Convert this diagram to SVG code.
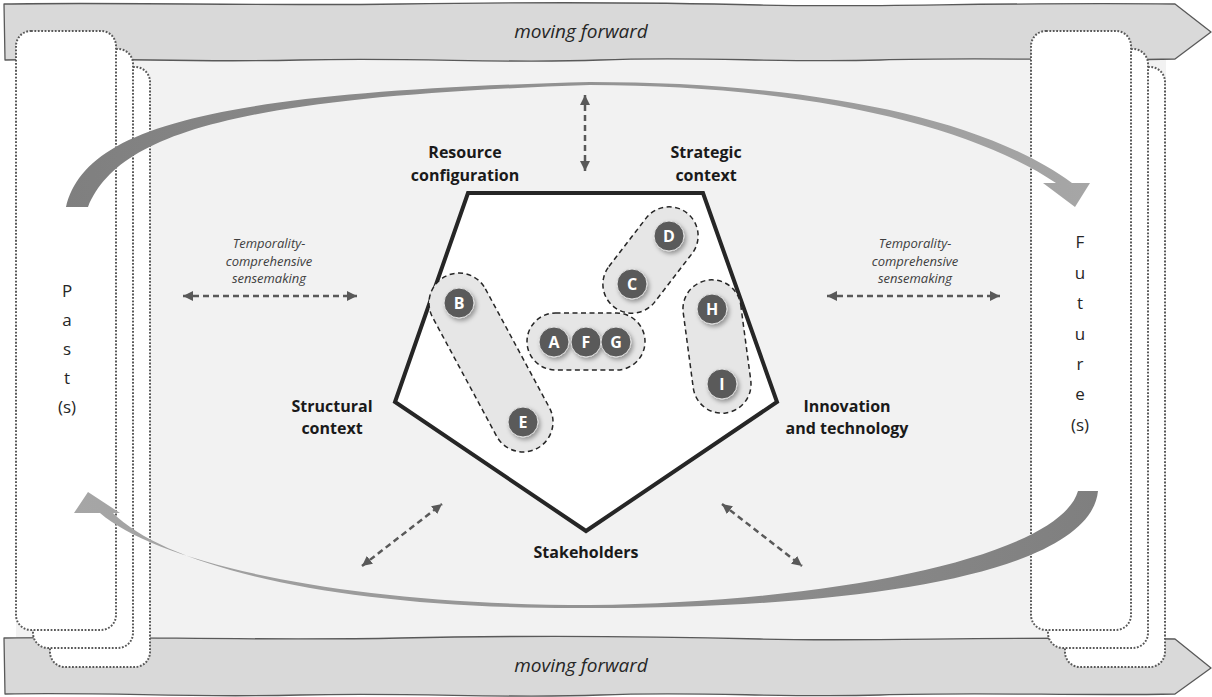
<svg xmlns="http://www.w3.org/2000/svg" width="1212" height="697" viewBox="0 0 1212 697">
  <style>
    .banner { fill: #d9d9d9; stroke: #595959; stroke-width: 1.3; stroke-linejoin: round; }
    .banner-text { font-family: "Open Sans", "Liberation Sans", sans-serif; font-style: italic; font-size: 19px; fill: #262626; text-anchor: middle; }
    .card { fill: #ffffff; stroke: #595959; stroke-width: 2; stroke-dasharray: 1.8 1.6; }
    .time-text { font-family: "Open Sans", "Liberation Sans", sans-serif; font-size: 17px; fill: #262626; text-anchor: middle; }
    .pentagon { fill: #ffffff; stroke: #262626; stroke-width: 4; stroke-linejoin: miter; }
    .label { font-family: "Open Sans", "Liberation Sans", sans-serif; font-weight: bold; font-size: 16px; fill: #1a1a1a; text-anchor: middle; }
    .note { font-family: "Open Sans", "Liberation Sans", sans-serif; font-style: italic; font-size: 13px; fill: #404040; text-anchor: middle; }
    .cluster { fill: #e6e6e6; stroke: #262626; stroke-width: 1.5; stroke-dasharray: 5 3.5; }
    .dot { fill: #5a5a5a; stroke: #e0e0e0; stroke-width: 1; filter: url(#shadow); }
    .dot-text { font-family: "Open Sans", "Liberation Sans", sans-serif; font-weight: bold; font-size: 16px; fill: #ffffff; text-anchor: middle; }
    .link { fill: none; stroke: #595959; stroke-width: 2.5; stroke-dasharray: 6 4; marker-start: url(#head); marker-end: url(#head); }
  </style>
  <defs>
    <filter id="shadow" x="-50%" y="-50%" width="200%" height="200%">
      <feDropShadow dx="2" dy="2.5" stdDeviation="2" flood-color="#000000" flood-opacity="0.35"/>
    </filter>
    <marker id="head" markerUnits="userSpaceOnUse" markerWidth="11" markerHeight="11" refX="10" refY="5.5" orient="auto-start-reverse">
      <path d="M0,0.5 L10,5.5 L0,10.5 Z" fill="#595959"/>
    </marker>
    <linearGradient id="sweepTop" gradientUnits="userSpaceOnUse" x1="66" y1="0" x2="1090" y2="0">
      <stop offset="0" stop-color="#7f7f7f"/>
      <stop offset="1" stop-color="#a6a6a6"/>
    </linearGradient>
    <linearGradient id="sweepBottom" gradientUnits="userSpaceOnUse" x1="1098" y1="0" x2="74" y2="0">
      <stop offset="0" stop-color="#7f7f7f"/>
      <stop offset="1" stop-color="#a6a6a6"/>
    </linearGradient>
  </defs>

  <!-- backdrop -->
  <rect x="16" y="30" width="1150" height="640" fill="#f2f2f2"/>

  <!-- time banners -->
  <g id="banner-top">
    <path class="banner" d="M4 4 C120 2 260 6 400 4 S640 2 760 5 S980 2 1175 4 L1211 32 L1175 59 C1080 61 980 57 880 60 S700 56 600 60 S420 57 300 60 S120 57 5 60 Z"/>
    <text class="banner-text" x="581" y="38">moving forward</text>
  </g>
  <g id="banner-bottom">
    <path class="banner" d="M4 638 C120 636 260 641 400 638 S640 636 760 639 S980 636 1175 639 L1211 668 L1175 694 C1080 696 980 692 880 695 S700 691 600 695 S420 692 300 695 S120 692 5 694 Z"/>
    <text class="banner-text" x="581" y="672">moving forward</text>
  </g>

  <!-- past cards -->
  <g id="past">
    <rect class="card" x="50" y="67" width="100" height="600" rx="15"/>
    <rect class="card" x="33" y="49" width="100" height="599" rx="15"/>
    <rect class="card" x="16" y="31" width="100" height="599" rx="15"/>
    <text class="time-text" x="67" y="297">P</text>
    <text class="time-text" x="67" y="326">a</text>
    <text class="time-text" x="67" y="355">s</text>
    <text class="time-text" x="67" y="384">t</text>
    <text class="time-text" x="67" y="413">(s)</text>
  </g>

  <!-- future cards -->
  <g id="future">
    <rect class="card" x="1065" y="67" width="100" height="600" rx="15"/>
    <rect class="card" x="1048" y="49" width="100" height="599" rx="15"/>
    <rect class="card" x="1031" y="31" width="100" height="599" rx="15"/>
    <text class="time-text" x="1080" y="248">F</text>
    <text class="time-text" x="1080" y="279">u</text>
    <text class="time-text" x="1080" y="309">t</text>
    <text class="time-text" x="1080" y="340">u</text>
    <text class="time-text" x="1080" y="370">r</text>
    <text class="time-text" x="1080" y="400">e</text>
    <text class="time-text" x="1080" y="431">(s)</text>
  </g>

  <!-- central pentagon -->
  <g id="pentagon">
    <polygon class="pentagon" points="468,193 703,193 777,402 586,531 395,402"/>
  </g>

  <!-- dimension labels -->
  <g id="label-resource">
    <text class="label" x="465" y="158">Resource</text>
    <text class="label" x="465" y="181">configuration</text>
  </g>
  <g id="label-strategic">
    <text class="label" x="706" y="158">Strategic</text>
    <text class="label" x="706" y="181">context</text>
  </g>
  <g id="label-structural">
    <text class="label" x="332" y="412">Structural</text>
    <text class="label" x="332" y="434">context</text>
  </g>
  <g id="label-innovation">
    <text class="label" x="847" y="412">Innovation</text>
    <text class="label" x="847" y="434">and technology</text>
  </g>
  <g id="label-stakeholders">
    <text class="label" x="586" y="558">Stakeholders</text>
  </g>

  <g id="note-left">
    <text class="note" x="269" y="248">Temporality-</text>
    <text class="note" x="269" y="266">comprehensive</text>
    <text class="note" x="269" y="283">sensemaking</text>
  </g>
  <g id="note-right">
    <text class="note" x="915" y="248">Temporality-</text>
    <text class="note" x="915" y="266">comprehensive</text>
    <text class="note" x="915" y="283">sensemaking</text>
  </g>

  <!-- clusters -->
  <g id="cluster-BE">
    <rect class="cluster" x="-97.5" y="-30" width="195" height="60" rx="30" transform="translate(491 362.5) rotate(61.7)"/>
  </g>
  <g id="cluster-CD">
    <rect class="cluster" x="-59.5" y="-29" width="119" height="58" rx="29" transform="translate(650.5 260) rotate(-52.4)"/>
  </g>
  <g id="cluster-AFG">
    <rect class="cluster" x="527" y="313" width="118" height="57" rx="28.5"/>
  </g>
  <g id="cluster-HI">
    <rect class="cluster" x="-67" y="-29" width="134" height="58" rx="29" transform="translate(717 346.5) rotate(82.4)"/>
  </g>

  <!-- items -->
  <g id="node-B"><circle class="dot" cx="459" cy="303" r="15"/><text class="dot-text" x="459" y="309">B</text></g>
  <g id="node-E"><circle class="dot" cx="523" cy="422" r="15"/><text class="dot-text" x="523" y="428">E</text></g>
  <g id="node-C"><circle class="dot" cx="632" cy="284" r="15"/><text class="dot-text" x="632" y="290">C</text></g>
  <g id="node-D"><circle class="dot" cx="669" cy="236" r="15"/><text class="dot-text" x="669" y="242">D</text></g>
  <g id="node-A"><circle class="dot" cx="554" cy="342" r="15"/><text class="dot-text" x="554" y="348">A</text></g>
  <g id="node-F"><circle class="dot" cx="586" cy="342" r="15"/><text class="dot-text" x="586" y="348">F</text></g>
  <g id="node-G"><circle class="dot" cx="616" cy="342" r="15"/><text class="dot-text" x="616" y="348">G</text></g>
  <g id="node-H"><circle class="dot" cx="712" cy="309" r="15"/><text class="dot-text" x="712" y="315">H</text></g>
  <g id="node-I"><circle class="dot" cx="722" cy="384" r="15"/><text class="dot-text" x="722" y="390">I</text></g>

  <!-- connectors -->
  <g id="connectors">
    <path fill="url(#sweepTop)" d="M66 207 C85 130 200 92 590 82 C800 82 980 115 1072 183 L1090 183 L1075 207 L1043 183 L1056 183 C970 125 800 85 590 85 C230 97 118 135 88 207 Z"/>
    <path fill="url(#sweepBottom)" d="M1098 491 C1090 570 880 608 590 608 C350 610 170 570 113 513 L120 513 L88 492 L74 513 L100 513 C160 565 350 605 590 605 C840 602 1060 555 1078 491 Z"/>
    <line class="link" x1="183" y1="296" x2="357" y2="296"/>
    <line class="link" x1="827" y1="296" x2="1000" y2="296"/>
    <line class="link" x1="585" y1="95" x2="585" y2="171"/>
    <line class="link" x1="362" y1="566" x2="442" y2="504"/>
    <line class="link" x1="722" y1="504" x2="802" y2="566"/>
  </g>
</svg>
